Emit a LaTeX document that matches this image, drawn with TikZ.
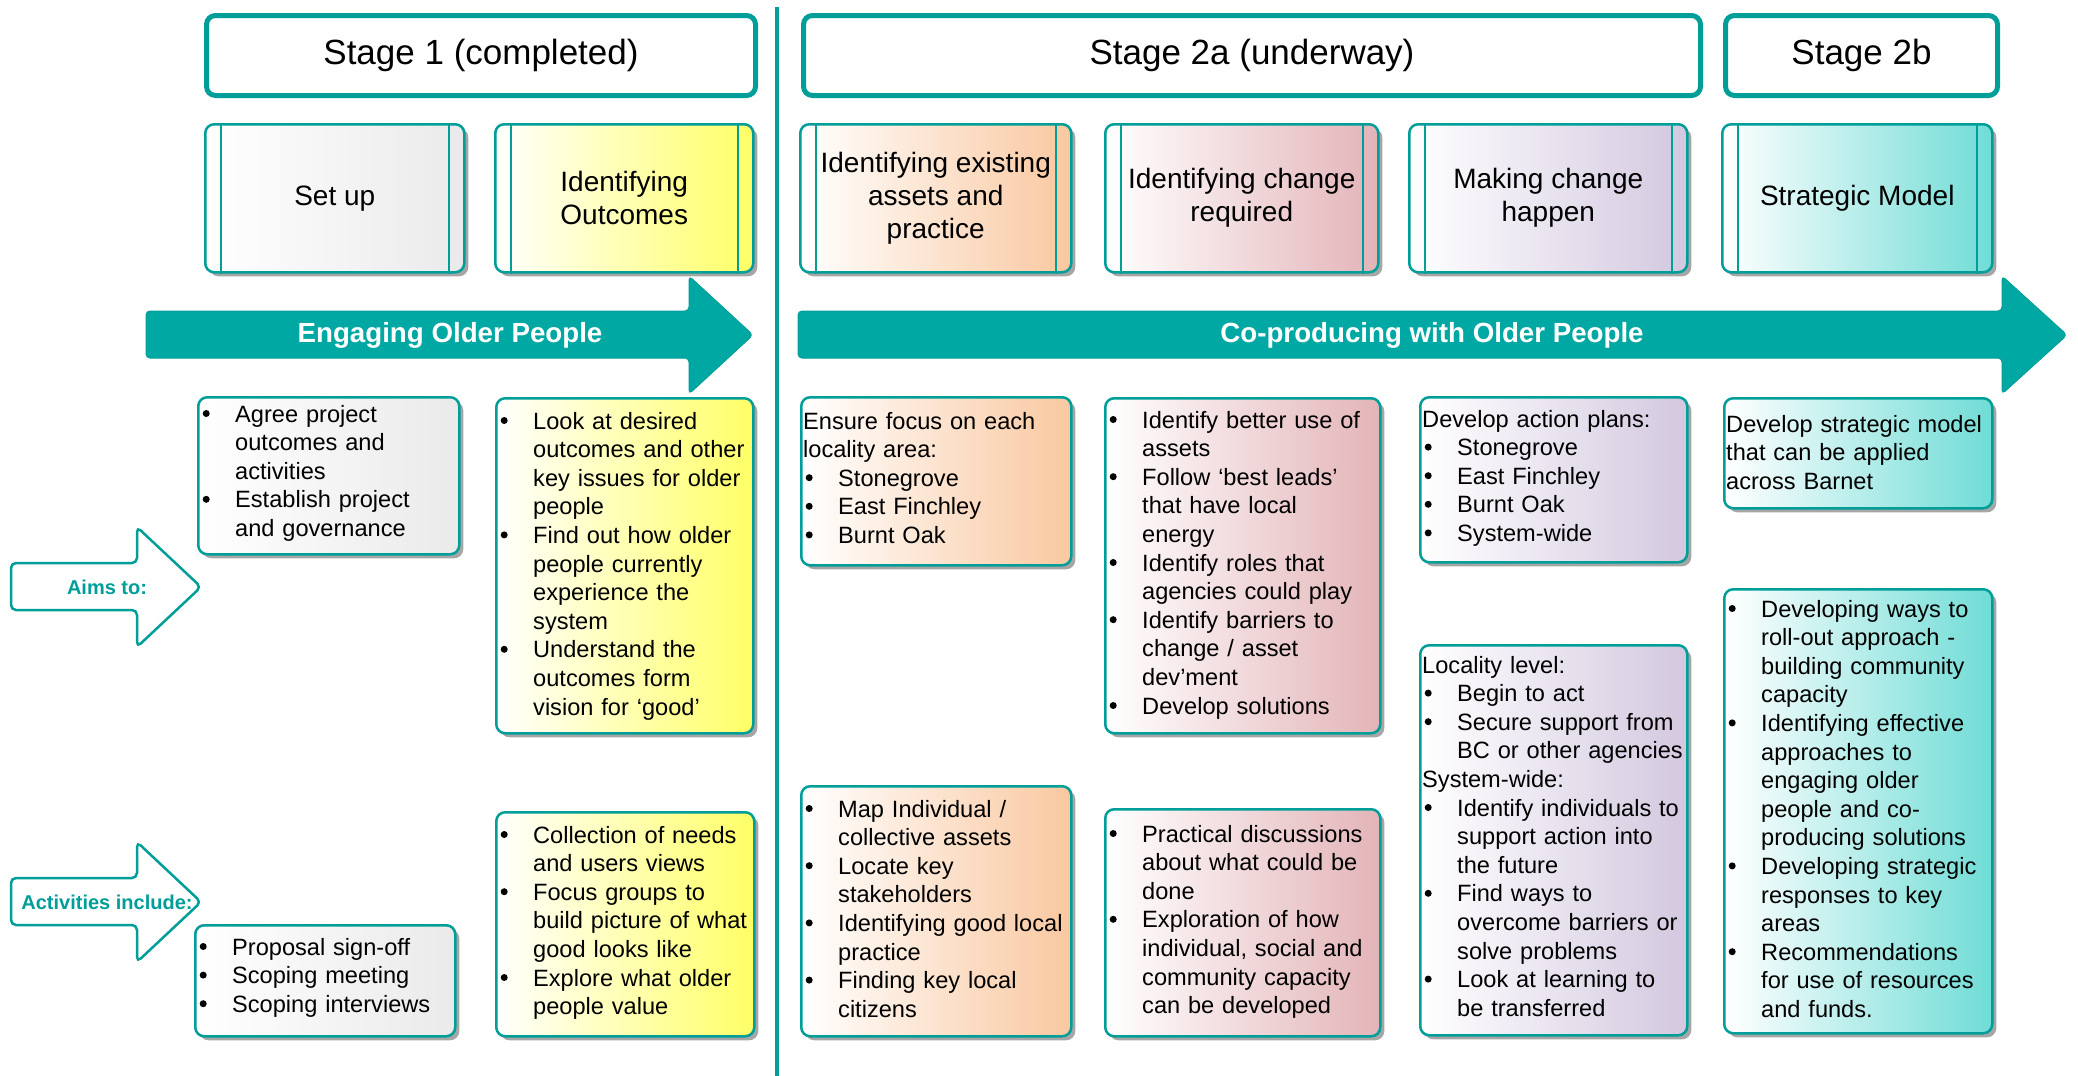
\documentclass[tikz,border=0pt]{standalone}
\usepackage{fontspec}
\setmainfont{Liberation Sans}
\usetikzlibrary{shadows,calc}

\definecolor{bteal}{HTML}{009E99}
\definecolor{bfill}{HTML}{00A8A3}
\definecolor{cgrey}{HTML}{EAEAEA}
\definecolor{cyellow}{HTML}{FFFF66}
\definecolor{cpeach}{HTML}{F9C8A0}
\definecolor{cpink}{HTML}{E3B4B8}
\definecolor{clilac}{HTML}{D3C8DF}
\definecolor{caqua}{HTML}{70DCD6}

\newcommand{\pbul}{\makebox[35pt][l]{\tikz[baseline=0pt]{\path (0pt,0pt); \fill[black] (6pt,8.5pt) circle[radius=3.5pt];}}}
\newcommand{\pind}{\hspace*{35pt}}

\tikzset{
	stagebox/.style={draw=bteal, line width=5pt, rounded corners=9pt, fill=white,
		anchor=north west, inner sep=0pt, minimum height=80pt,
		font=\fontsize{35}{40}\selectfont},
	titlebox/.style={draw=bteal, line width=2.5pt, rounded corners=9pt,
		left color=white, right color=#1,
		drop shadow={shadow xshift=4pt, shadow yshift=-4pt, fill=black!50, opacity=.7},
		anchor=north west, inner sep=0pt, minimum height=148pt, align=center,
		font=\fontsize{28}{33}\selectfont},
	infobox/.style={draw=bteal, line width=2.5pt, rounded corners=9pt,
		left color=white, right color=#1,
		drop shadow={shadow xshift=4pt, shadow yshift=-4pt, fill=black!50, opacity=.7},
		anchor=north west, inner sep=0pt},
	itemtext/.style={anchor=base west, inner sep=0pt, text width=300pt, align=left,
		font=\fontsize{23.6}{28.6}\selectfont},
	bigarrow/.style={fill=bfill, draw=bteal, line width=1pt, rounded corners=4pt},
	pointer/.style={draw=bteal, line width=2.5pt, fill=white, rounded corners=5pt},
	arrowlabel/.style={text=white, font=\bfseries\fontsize{27.7}{32}\selectfont},
	pointerlabel/.style={text=bteal, font=\bfseries\fontsize{20}{24}\selectfont}
}

\begin{document}
\begin{tikzpicture}[x=1pt,y=-1pt]
	\useasboundingbox (0,0) rectangle (2078,1076);

	% stage headers
	\node[stagebox, minimum width=549pt] (stageone) at (204,13) {Stage 1 (completed)};
	\node[stagebox, minimum width=897pt] (stagetwoa) at (801,13) {Stage 2a (underway)};
	\node[stagebox, minimum width=272pt] (stagetwob) at (1723,13) {Stage 2b};

	\draw
		[bteal, line width=4pt] (777,7) -- (777,1076);

	% title row
	\node[titlebox=cgrey, minimum width=259pt] (setup) at (204,123) {Set up};
	\node[titlebox=cyellow, minimum width=258pt] (outcomes) at (494,123) {Identifying\\Outcomes};
	\node[titlebox=cpeach, minimum width=271pt] (assets) at (799,123) {Identifying existing\\assets and\\practice};
	\node[titlebox=cpink, minimum width=273pt] (change) at (1104,123) {Identifying change\\required};
	\node[titlebox=clilac, minimum width=278pt] (happen) at (1408,123) {Making change\\happen};
	\node[titlebox=caqua, minimum width=270pt] (model) at (1721,123) {Strategic Model};

	\foreach \n in {setup,outcomes,assets,change,happen,model}
	{
		\draw
			[bteal, line width=2pt] ([xshift=17pt]\n.north west) -- ([xshift=17pt]\n.south west);
		\draw
			[bteal, line width=2pt] ([xshift=-17pt]\n.north east) -- ([xshift=-17pt]\n.south east);
	}

	% big arrows
	\draw
		[bigarrow] (146,311) -- (689,311) -- (689,276) -- (753,335) -- (689,394) -- (689,358) -- (146,358) -- cycle;
	\node[arrowlabel] (engaging) at (450,335) {Engaging Older People};

	\draw
		[bigarrow] (798,311) -- (2002,311) -- (2002,276) -- (2067,335) -- (2002,394) -- (2002,358) -- (798,358) -- cycle;
	\node[arrowlabel] (coproducing) at (1432,335) {Co-producing with Older People};

	% side pointers
	\draw
		[pointer] (11,563) -- (137,563) -- (137,527) -- (201,587) -- (137,647) -- (137,610) -- (11,610) -- cycle;
	\node[pointerlabel] (aimsto) at (107,587) {Aims to:};

	\draw
		[pointer] (11,878) -- (137,878) -- (137,842) -- (201,902) -- (137,962) -- (137,925) -- (11,925) -- cycle;
	\node[pointerlabel] (actsinclude) at (107,902) {Activities include:};

	% aims row
	\node[infobox=cgrey, minimum width=261pt, minimum height=157pt] (setupaims) at (197,396) {};
	\node[itemtext] (setupaimstxt) at ($(setupaims.north west)+(3,26)$)
		{\pbul Agree project\\ \pind outcomes and\\ \pind activities\\ \pbul Establish project\\ \pind and governance};

	\node[infobox=cyellow, minimum width=257pt, minimum height=335pt] (outcomesaims) at (495,397) {};
	\node[itemtext] (outcomesaimstxt) at ($(outcomesaims.north west)+(3,32)$)
		{\pbul Look at desired\\ \pind outcomes and other\\ \pind key issues for older\\ \pind people\\
		\pbul Find out how older\\ \pind people currently\\ \pind experience the\\ \pind system\\
		\pbul Understand the\\ \pind outcomes form\\ \pind vision for ‘good’};

	\node[infobox=cpeach, minimum width=270pt, minimum height=168pt] (assetsaims) at (800,396) {};
	\node[itemtext] (assetsaimstxt) at ($(assetsaims.north west)+(3,33)$)
		{Ensure focus on each\\ locality area:\\ \pbul Stonegrove\\ \pbul East Finchley\\ \pbul Burnt Oak};

	\node[infobox=cpink, minimum width=275pt, minimum height=335pt] (changeaims) at (1104,397) {};
	\node[itemtext] (changeaimstxt) at ($(changeaims.north west)+(3,31)$)
		{\pbul Identify better use of\\ \pind assets\\ \pbul Follow ‘best leads’\\ \pind that have local\\ \pind energy\\
		\pbul Identify roles that\\ \pind agencies could play\\ \pbul Identify barriers to\\ \pind change / asset\\ \pind dev’ment\\
		\pbul Develop solutions};

	\node[infobox=clilac, minimum width=267pt, minimum height=165pt] (happenaims) at (1419,396) {};
	\node[itemtext] (happenaimstxt) at ($(happenaims.north west)+(3,31)$)
		{Develop action plans:\\ \pbul Stonegrove\\ \pbul East Finchley\\ \pbul Burnt Oak\\ \pbul System-wide};

	\node[infobox=caqua, minimum width=268pt, minimum height=110pt] (modelaims) at (1723,397) {};
	\node[itemtext] (modelaimstxt) at ($(modelaims.north west)+(3,35)$)
		{Develop strategic model\\ that can be applied\\ across Barnet};

	% activities row
	\node[infobox=cgrey, minimum width=260pt, minimum height=111pt] (setupacts) at (194,924) {};
	\node[itemtext] (setupactstxt) at ($(setupacts.north west)+(3,31)$)
		{\pbul Proposal sign-off\\ \pbul Scoping meeting\\ \pbul Scoping interviews};

	\node[infobox=cyellow, minimum width=258pt, minimum height=224pt] (outcomesacts) at (495,811) {};
	\node[itemtext] (outcomesactstxt) at ($(outcomesacts.north west)+(3,32)$)
		{\pbul Collection of needs\\ \pind and users views\\ \pbul Focus groups to\\ \pind build picture of what\\
		\pind good looks like\\ \pbul Explore what older\\ \pind people value};

	\node[infobox=cpeach, minimum width=270pt, minimum height=250pt] (assetsacts) at (800,785) {};
	\node[itemtext] (assetsactstxt) at ($(assetsacts.north west)+(3,32)$)
		{\pbul Map Individual /\\ \pind collective assets\\ \pbul Locate key\\ \pind stakeholders\\
		\pbul Identifying good local\\ \pind practice\\ \pbul Finding key local\\ \pind citizens};

	\node[infobox=cpink, minimum width=275pt, minimum height=227pt] (changeacts) at (1104,808) {};
	\node[itemtext] (changeactstxt) at ($(changeacts.north west)+(3,34)$)
		{\pbul Practical discussions\\ \pind about what could be\\ \pind done\\ \pbul Exploration of how\\
		\pind individual, social and\\ \pind community capacity\\ \pind can be developed};

	\node[infobox=clilac, minimum width=267pt, minimum height=390pt] (happenacts) at (1419,644) {};
	\node[itemtext] (happenactstxt) at ($(happenacts.north west)+(3,29)$)
		{Locality level:\\ \pbul Begin to act\\ \pbul Secure support from\\ \pind BC or other agencies\\
		System-wide:\\ \pbul Identify individuals to\\ \pind support action into\\ \pind the future\\
		\pbul Find ways to\\ \pind overcome barriers or\\ \pind solve problems\\ \pbul Look at learning to\\ \pind be transferred};

	\node[infobox=caqua, minimum width=268pt, minimum height=444pt] (modelacts) at (1723,588) {};
	\node[itemtext] (modelactstxt) at ($(modelacts.north west)+(3,29)$)
		{\pbul Developing ways to\\ \pind roll-out approach -\\ \pind building community\\ \pind capacity\\
		\pbul Identifying effective\\ \pind approaches to\\ \pind engaging older\\ \pind people and co-\\ \pind producing solutions\\
		\pbul Developing strategic\\ \pind responses to key\\ \pind areas\\
		\pbul Recommendations\\ \pind for use of resources\\ \pind and funds.};

\end{tikzpicture}
\end{document}
